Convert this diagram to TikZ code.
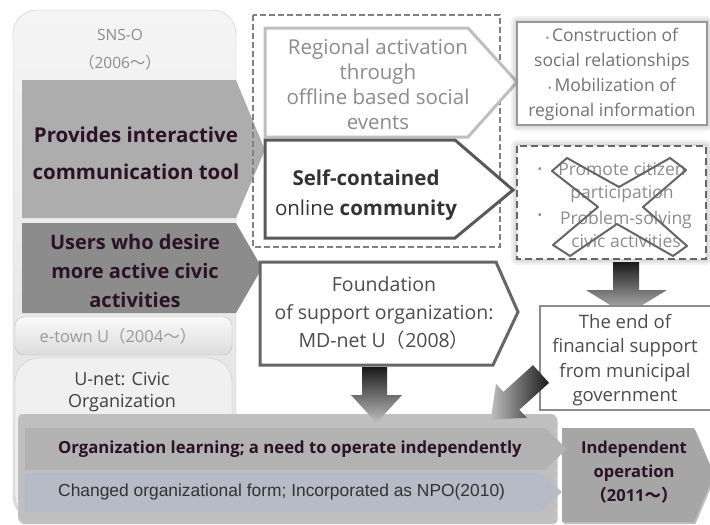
\documentclass[tikz,border=0pt]{standalone}
\usepackage{fontspec}
\setmainfont{Open Sans}
\newfontfamily\cjk{Noto Sans CJK JP}
\newfontfamily\arialfont{Liberation Sans}
\usetikzlibrary{shadows}

\definecolor{inkdark}{HTML}{2B1226}
\definecolor{rowblue}{HTML}{B7BAC7}

\newcommand{\fsz}[2]{\fontsize{#1}{#2}\selectfont}
\newcommand{\fwopen}{{\cjk （}}
\newcommand{\fwclose}{{\cjk ）}}
\newcommand{\fwtilde}{{\cjk ～}}

\tikzset{
  lbl/.style={align=center, inner sep=0pt},
  softshadow/.style={drop shadow={shadow xshift=1.5pt, shadow yshift=-2pt, opacity=.25, fill=black}},
  tagline/.style={line width=3pt, fill=white, line join=miter},
  blockarrow/.style={top color=black!90, bottom color=black!25},
}

\begin{document}
\begin{tikzpicture}[x=1pt, y=-1pt]
\useasboundingbox[fill=white] (0,0) rectangle (710,525);

% left column: SNS-O, e-town U, U-net
\draw[draw=black!22, top color=black!4, bottom color=black!12, rounded corners=24pt] (13,10) rectangle (236,520);
\node[lbl, text=black!45, font=\fsz{15.5}{28}] (sns) at (120,50) {SNS-O\\\fwopen 2006\fwtilde\fwclose};

\fill[black!32] (22,80) -- (236,80) -- (265,150) -- (236,218) -- (22,218) -- cycle;
\node[lbl, text=inkdark, font=\bfseries\fsz{20.5}{37}] (tool) at (136,153) {Provides interactive\\communication tool};

\fill[black!45] (22,223) -- (236,223) -- (262,268) -- (236,313) -- (22,313) -- cycle;
\node[lbl, text=inkdark, font=\bfseries\fsz{20}{29}] (users) at (135,271) {Users who desire\\more active civic\\activities};

\draw[draw=black!25, top color=black!2, bottom color=black!14, rounded corners=9pt] (15,317) rectangle (232,355);
\node[lbl, text=black!40, font=\fsz{16.5}{18}] (etown) at (118,336) {e-town U\fwopen 2004\fwtilde\fwclose};

\draw[draw=black!22, fill=black!6, rounded corners=24pt] (15,358) rectangle (232,520);
\node[lbl, text=black!75, font=\fsz{18}{22}] (unet) at (122,392) {U-net: Civic\\Organization};

% middle column
\draw[black!50, line width=1.5pt, dash pattern=on 6pt off 3pt] (253,15) rectangle (500,247);
\draw[tagline, draw=black!25] (265,28) -- (468,28) -- (517,82) -- (468,137) -- (265,137) -- cycle;
\node[lbl, text=black!45, font=\fsz{20.5}{25}] (regional) at (378,84) {Regional activation\\through\\offline based social\\events};
\draw[tagline, draw=black!65] (265,140) -- (455,140) -- (513,190) -- (455,238) -- (265,238) -- cycle;
\node[lbl, text=black!80, font=\fsz{20.5}{30}] (online) at (366,195) {\textbf{Self-contained}\\online \textbf{community}};

% right column
\foreach \g in {2,4,6}
  \fill[black, opacity=.05, rounded corners=\g pt] (517-\g,22-\g) rectangle (707+\g,125+\g);
\draw[draw=black!40, line width=2pt, fill=white] (517,22) rectangle (707,125);
\node[lbl, text=black!55, font=\fsz{17.5}{25}] (social) at (612,74) {{\small\textbullet}\,Construction of\\social relationships\\{\small\textbullet}\,Mobilization of\\regional information};

\foreach \g in {2,4,6}
  \fill[black, opacity=.05, rounded corners=\g pt] (517-\g,146-\g) rectangle (706+\g,259+\g);
\draw[draw=black!60, line width=2pt, dash pattern=on 7pt off 4pt, fill=white] (517,146) rectangle (706,259);
\node[lbl, text=black!45, font=\fsz{12}{12}] (dota) at (540,171) {\textbullet};
\node[lbl, text=black!45, font=\fsz{17.5}{23}] (promote) at (622,183) {Promote citizen\\participation};
\node[lbl, text=black!45, font=\fsz{12}{12}] (dotb) at (540,217) {\textbullet};
\node[lbl, text=black!45, font=\fsz{17.5}{23}] (solving) at (626,229) {Problem-solving\\civic activities};
\draw[black!60, line width=2pt, line join=round] (567,158) -- (619,187) -- (670,158) -- (686,170) -- (643,207) -- (687,246) -- (673,256) -- (617,224) -- (570,256) -- (553,245) -- (598,207) -- (552,171) -- cycle;

\shade[blockarrow] (613,262) -- (639,262) -- (639,290) -- (667,290) -- (626,315) -- (586,290) -- (613,290) -- cycle;

\draw[draw=black!45, line width=1.5pt, fill=white] (540,306) rectangle (714,410);
\node[lbl, text=black!70, font=\fsz{18.5}{24.5}] (end) at (625,360) {The end of\\financial support\\from municipal\\government};

\draw[tagline, draw=black!60] (260,262) -- (496,262) -- (518,312) -- (493,365) -- (260,365) -- cycle;
\node[lbl, text=black!70, font=\fsz{19.5}{28}] (support) at (384,313) {Foundation\\of support organization:\\MD-net U\fwopen 2008\fwclose};

% bottom band
\draw[draw=black!12, fill=black!25, dash pattern=on 5pt off 3pt, rounded corners=4pt, softshadow] (18,414) rectangle (556,522);
\fill[black!35, softshadow] (562,428) -- (694,428) -- (714,475) -- (694,522) -- (562,522) -- cycle;
\node[lbl, text=inkdark, font=\bfseries\fsz{16.5}{24}] (indep) at (634,472) {Independent\\operation\\\fwopen 2011\fwtilde\fwclose};

\fill[black!30] (25,428) -- (545,428) -- (567,449) -- (545,470) -- (25,470) -- cycle;
\node[lbl, text=inkdark, font=\bfseries\fsz{16.7}{20}, anchor=west] (learn) at (58,449) {Organization learning; a need to operate independently};
\fill[rowblue] (25,473) -- (540,473) -- (562,492) -- (540,512) -- (25,512) -- cycle;
\node[lbl, text=black!80, font=\arialfont\fsz{17.4}{18}, anchor=west] (npo) at (58,492) {Changed organizational form; Incorporated as NPO(2010)};

% arrows into the band
\shade[blockarrow] (362,367) -- (387,367) -- (387,395) -- (402,395) -- (376.5,423) -- (351,395) -- (362,395) -- cycle;
\shade[left color=black!25, right color=black!90] (533.0,365.1) -- (549.0,382.9) -- (519.4,409.7) -- (526.8,417.8) -- (490.7,419.6) -- (496.0,383.8) -- (503.4,391.9) -- cycle;
\end{tikzpicture}
\end{document}
